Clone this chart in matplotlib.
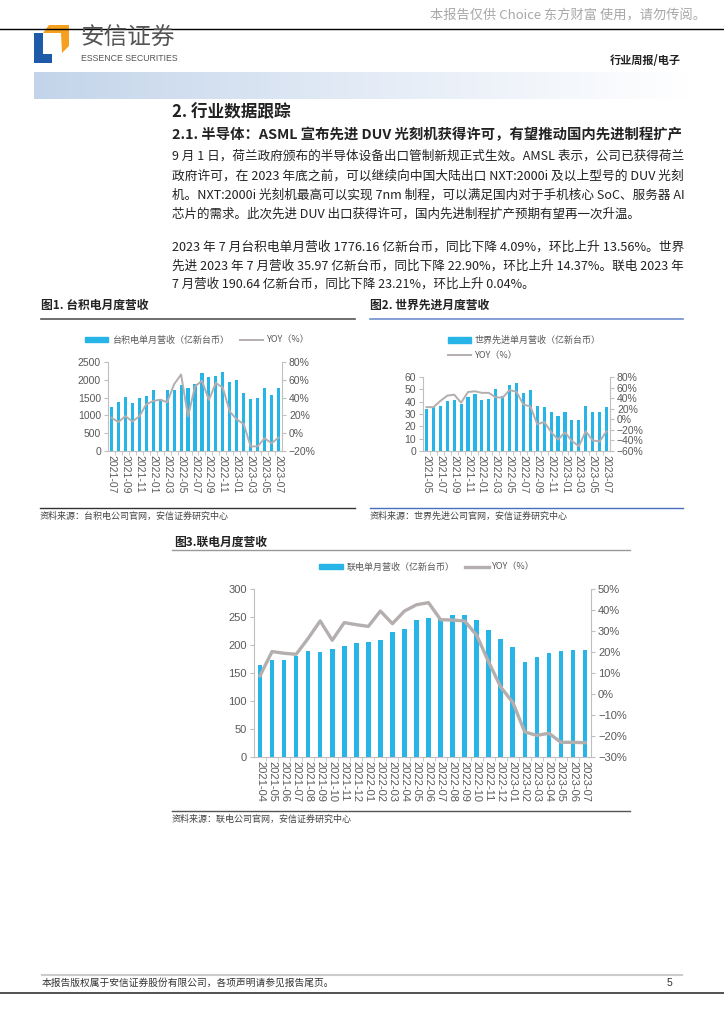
import matplotlib
matplotlib.use('Agg')
import matplotlib.pyplot as plt
import numpy as np
from matplotlib import font_manager
from matplotlib.patches import Polygon, Rectangle
from matplotlib.lines import Line2D
from matplotlib.colors import LinearSegmentedColormap

plt.rcParams['font.family'] = ['Noto Sans CJK SC', 'DejaVu Sans']

# ---- data ----
tsmc_months = ['2021-07', '2021-08', '2021-09', '2021-10', '2021-11', '2021-12',
               '2022-01', '2022-02', '2022-03', '2022-04', '2022-05', '2022-06',
               '2022-07', '2022-08', '2022-09', '2022-10', '2022-11', '2022-12',
               '2023-01', '2023-02', '2023-03', '2023-04', '2023-05', '2023-06', '2023-07']
tsmc_rev = [1249, 1373, 1527, 1346, 1483, 1551, 1721, 1469, 1719, 1726, 1851, 1758,
            1868, 2181, 2083, 2103, 2227, 1926, 2000, 1631, 1454, 1479, 1765, 1564, 1776]
tsmc_yoy = [17.4, 12.5, 19.2, 13.2, 18.9, 32.5, 36.2, 37.7, 34.7, 55.0, 66.0, 18.9,
            52.5, 58.9, 37.4, 56.6, 51.0, 24.2, 15.5, 10.2, -15.0, -14.7, -5.7, -11.3, -4.9]

vis_months = ['2021-05', '2021-06'] + tsmc_months
vis_rev = [34.0, 35.7, 36.8, 40.3, 41.0, 37.8, 43.5, 46.0, 41.6, 42.4, 50.3, 44.9, 53.2, 54.9,
           46.8, 49.5, 36.8, 35.4, 31.9, 28.1, 31.9, 24.9, 24.9, 36.2, 31.6, 31.6, 35.97]
vis_yoy = [23, 23, 34.6, 44.7, 46.6, 31.4, 51.6, 53, 50, 50, 41.5, 41, 55.4, 52,
           27.7, 24.5, -9.5, -5, -24, -38.5, -24.7, -41, -51, -22.8, -40, -42, -22.8]

umc_months = ['2021-04', '2021-05', '2021-06'] + tsmc_months
umc_rev = [164, 172.6, 173.8, 181, 189, 187.5, 192.9, 197.6, 203.6, 205.4, 209, 222.6, 228.6, 244.6,
           248.8, 247, 254, 253.6, 244, 226, 210, 196.4, 170.2, 178, 185.7, 188.7, 191, 190.64]
umc_yoy = [8.7, 20.2, 19.4, 18.9, 26.5, 34.8, 25.6, 34, 33, 32.2, 39.5, 33.5, 39.5, 42.5,
           43.5, 35.4, 35.2, 34.8, 28, 15.2, 3.3, -4, -18.1, -19.7, -18.7, -23, -23, -23.21]

BLUE = '#27b4e6'
GRAY = '#b5aeae'
TXT = '#595959'
W, H = 724, 1024

fig = plt.figure(figsize=(W / 100, H / 100), dpi=100)
renderer = fig.canvas.get_renderer()


def fx(x):
    return x / W


def fy(y):
    return 1 - y / H


def txt(x, y, s, **kw):
    kw.setdefault('va', 'center')
    return fig.text(fx(x), fy(y), s, **kw)


def fit(t, width):
    # stretch a line to the column width, like justified text
    w = t.get_window_extent(renderer).width
    t.set_fontsize(t.get_fontsize() * width / w)


def hline(x0, x1, y, color, lw):
    fig.add_artist(Line2D([fx(x0), fx(x1)], [fy(y), fy(y)], color=color, lw=lw,
                          transform=fig.transFigure))


def poly(pts, color):
    fig.add_artist(Polygon([(fx(a), fy(b)) for a, b in pts], closed=True, color=color,
                           lw=0, transform=fig.transFigure))


def pct(v, p):
    return f'{v:.0f}%'.replace('-', '\u2212')


def bar_line(box, labels, rev, yoy, step, ylim, ystep, y2lim, y2step, bw, lw, fs):
    l, t, r, b = box
    ax = fig.add_axes([fx(l), fy(b), (r - l) / W, (b - t) / H])
    x = np.arange(len(labels))
    ax.bar(x, rev, width=bw, color=BLUE, zorder=2)
    ax.set_xlim(-0.5, len(labels) - 0.5)
    ax.set_ylim(*ylim)
    ax.set_yticks(np.arange(ylim[0], ylim[1] + 0.1, ystep))
    ax.set_xticks(x[::step])
    ax.set_xticklabels(labels[::step], rotation=-90, fontsize=fs, color=TXT,
                       family=['Liberation Sans'])
    ax.set_xticks(x[:-1] + 0.5, minor=True)
    ax.tick_params(axis='x', which='major', length=0, pad=3)
    ax.tick_params(axis='x', which='minor', length=3, color='#bfbfbf')
    ax.tick_params(axis='y', length=3, color='#bfbfbf', labelsize=fs, labelcolor=TXT, pad=2)
    for lab in ax.get_yticklabels():
        lab.set_family(['Liberation Sans'])
    for s in ['top', 'right']:
        ax.spines[s].set_visible(False)
    for s in ['left', 'bottom']:
        ax.spines[s].set_color('#bfbfbf')
        ax.spines[s].set_linewidth(0.8)

    ax2 = ax.twinx()
    ax2.plot(x, yoy, color=GRAY, lw=lw, zorder=3)
    ax2.set_ylim(*y2lim)
    ax2.set_yticks(np.arange(y2lim[0], y2lim[1] + 0.1, y2step))
    ax2.yaxis.set_major_formatter(pct)
    ax2.tick_params(axis='y', length=3, color='#bfbfbf', labelsize=fs, labelcolor=TXT, pad=2)
    for lab in ax2.get_yticklabels():
        lab.set_family(['Liberation Sans'])
    for s in ['top', 'left', 'bottom']:
        ax2.spines[s].set_visible(False)
    ax2.spines['right'].set_color('#bfbfbf')
    ax2.spines['right'].set_linewidth(0.8)
    return ax, ax2


def legend(ax, name, xy, ncol, loc, fs, lw):
    h = [Rectangle((0, 0), 1, 1, color=BLUE), Line2D([], [], color=GRAY, lw=lw)]
    ax.legend(h, [name, 'YOY（%）'], ncol=ncol, loc=loc, frameon=False,
              bbox_to_anchor=(fx(xy[0]), fy(xy[1])), bbox_transform=fig.transFigure,
              fontsize=fs, handlelength=2.6, handleheight=0.6, columnspacing=1.2,
              handletextpad=0.4, labelspacing=0.7, labelcolor=TXT, borderaxespad=0)


# ---- page header ----
txt(706, 16, '本报告仅供 Choice 东方财富 使用，请勿传阅。', ha='right', fontsize=9.5, color='#a8a8a8')
hline(0, 724, 29, 'black', 1.0)
poly([(34, 33), (43, 33), (43, 54), (52, 54), (52, 63), (34, 63)], '#1d5aa8')
poly([(43, 33), (49, 25), (69, 25), (69, 46), (62, 53), (61, 33)], '#f5a01e')
txt(80, 38.5, '安信证券', fontsize=17, color='#555555')
names = {f.name for f in font_manager.fontManager.ttflist}
if 'Liberation Sans Narrow' in names:
    txt(81, 58.5, 'ESSENCE SECURITIES', fontsize=7.6, color='#555555', family=['Liberation Sans Narrow'])
else:
    txt(81, 58.5, 'ESSENCE SECURITIES', fontsize=6.3, color='#555555', family=['Liberation Sans'])
txt(681, 60, '行业周报/电子', ha='right', fontsize=8, fontweight='bold', color='#222222')

band = fig.add_axes([fx(34), fy(99), (690 - 34) / W, 27 / H])
cmap = LinearSegmentedColormap.from_list('band', ['#c3d4ea', '#e3ebf6', '#ffffff'])
band.imshow(np.linspace(0, 1, 256)[None, :], aspect='auto', cmap=cmap)
band.axis('off')

# ---- body text ----
txt(172, 112, '2. 行业数据跟踪', fontsize=12, fontweight='bold', color='#222222')
t = txt(172, 135, '2.1. 半导体：ASML 宣布先进 DUV 光刻机获得许可，有望推动国内先进制程扩产',
        fontsize=10.5, fontweight='bold', color='#222222')
fit(t, 511)
body = ['9 月 1 日，荷兰政府颁布的半导体设备出口管制新规正式生效。AMSL 表示，公司已获得荷兰',
        '政府许可，在 2023 年底之前，可以继续向中国大陆出口 NXT:2000i 及以上型号的 DUV 光刻',
        '机。NXT:2000i 光刻机最高可以实现 7nm 制程，可以满足国内对于手机核心 SoC、服务器 AI',
        '芯片的需求。此次先进 DUV 出口获得许可，国内先进制程扩产预期有望再一次升温。',
        '2023 年 7 月台积电单月营收 1776.16 亿新台币，同比下降 4.09%，环比上升 13.56%。世界',
        '先进 2023 年 7 月营收 35.97 亿新台币，同比下降 22.90%，环比上升 14.37%。联电 2023 年',
        '7 月营收 190.64 亿新台币，同比下降 23.21%，环比上升 0.04%。']
body_y = [156, 176, 195, 214, 247, 266, 284]
body_full = [True, True, True, False, True, True, False]
for s, y, full in zip(body, body_y, body_full):
    t = txt(172, y, s, fontsize=9, color='#222222')
    if full:
        fit(t, 511)

# ---- chart 1 ----
txt(41, 305, '图1. 台积电月度营收', fontsize=8.5, fontweight='bold', color='#222222')
hline(41, 355, 319, '#555555', 1.2)
ax, ax2 = bar_line((108, 362, 282, 451), tsmc_months, tsmc_rev, tsmc_yoy, 2,
                   (0, 2500), 500, (-20, 80), 20, 0.45, 1.4, 7.5)
legend(ax2, '台积电单月营收（亿新台币）', (197, 340), 2, 'center', 6.5, 1.4)
hline(40, 355, 508, '#333333', 1.0)
txt(40, 516, '资料来源：台积电公司官网，安信证券研究中心', fontsize=6.5, color='#444444')

# ---- chart 2 ----
txt(370, 305, '图2. 世界先进月度营收', fontsize=8.5, fontweight='bold', color='#222222')
hline(370, 683, 319, '#6f8fd0', 1.2)
ax, ax2 = bar_line((423, 377, 610, 451), vis_months, vis_rev, vis_yoy, 2,
                   (0, 60), 10, (-60, 80), 20, 0.45, 1.4, 7.5)
legend(ax2, '世界先进单月营收（亿新台币）', (444, 348), 1, 'center left', 6.5, 1.4)
hline(370, 683, 508, '#4a6cc0', 1.0)
txt(370, 516, '资料来源：世界先进公司官网，安信证券研究中心', fontsize=6.5, color='#444444')

# ---- chart 3 ----
txt(174, 542, '图3.联电月度营收', fontsize=8.5, fontweight='bold', color='#222222')
hline(172, 630, 550, '#999999', 1.0)
ax, ax2 = bar_line((254, 589, 591, 757), umc_months, umc_rev, umc_yoy, 1,
                   (0, 300), 50, (-30, 50), 10, 0.38, 2.4, 8)
legend(ax2, '联电单月营收（亿新台币）', (427, 567), 2, 'center', 6.5, 2.4)
hline(172, 630, 811, '#555555', 1.0)
txt(172, 819, '资料来源：联电公司官网，安信证券研究中心', fontsize=6.5, color='#444444')

# ---- footer ----
hline(42, 682, 975, '#cccccc', 1.5)
txt(42, 983, '本报告版权属于安信证券股份有限公司，各项声明请参见报告尾页。', fontsize=7, color='#333333')
txt(667, 983, '5', fontsize=7.5, color='#333333', family=['Liberation Sans'])
hline(0, 724, 993, '#333333', 1.2)

fig.savefig('out.png', dpi=100)
